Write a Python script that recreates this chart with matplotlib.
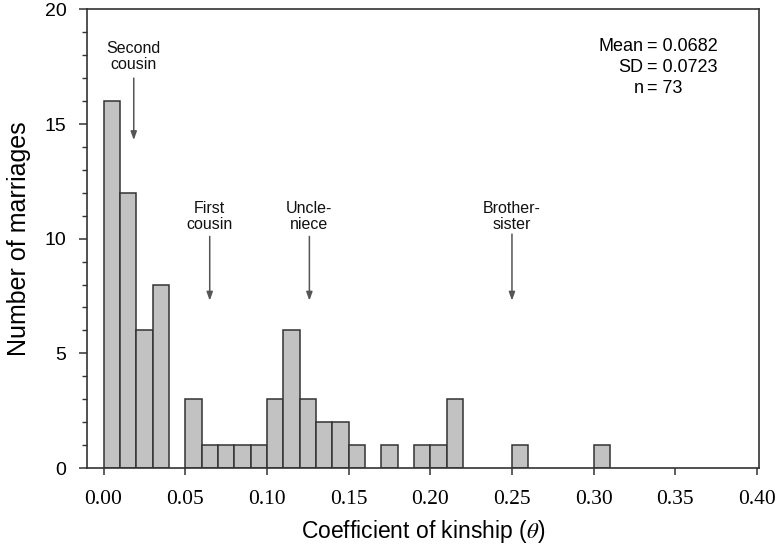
import matplotlib
matplotlib.use("Agg")
import matplotlib.pyplot as plt
from matplotlib.ticker import MultipleLocator, FixedLocator

plt.rcParams["mathtext.fontset"] = "stix"

# Data
bin_lefts = [0.00, 0.01, 0.02, 0.03, 0.04, 0.05, 0.06, 0.07, 0.08, 0.09,
             0.10, 0.11, 0.12, 0.13, 0.14, 0.15, 0.16, 0.17, 0.18, 0.19,
             0.20, 0.21, 0.22, 0.23, 0.24, 0.25, 0.26, 0.27, 0.28, 0.29, 0.30]
counts = [16, 12, 6, 8, 0, 3, 1, 1, 1, 1,
          3, 6, 3, 2, 2, 1, 0, 1, 0, 1,
          1, 3, 0, 0, 0, 1, 0, 0, 0, 0, 1]
bin_width = 0.01

arrow_labels = ["Second\ncousin", "First\ncousin", "Uncle-\nniece", "Brother-\nsister"]
arrow_x = [0.0185, 0.065, 0.126, 0.25]
arrow_tail = [17.0, 10.1, 10.1, 10.2]
arrow_head = [14.3, 7.3, 7.3, 7.3]
label_y = [17.25, 10.3, 10.3, 10.3]

xticks = [0.00, 0.05, 0.10, 0.15, 0.20, 0.25, 0.30, 0.35, 0.40]
xtick_labels = ["0.00", "0.05", "0.10", "0.15", "0.20", "0.25", "0.30", "0.35", "0.40"]
yticks = [0, 5, 10, 15, 20]

stats_names = ["Mean", "SD", "n"]
stats_values = ["0.0682", "0.0723", "73"]

sans = ["Liberation Sans", "DejaVu Sans"]
serif = ["Liberation Serif", "DejaVu Serif"]
dark = "#333333"

fig = plt.figure(figsize=(7.79, 5.49), dpi=100)
ax = fig.add_axes([0.1113, 0.1475, 0.9743 - 0.1113, 0.983 - 0.1475])

bx = [b for b, c in zip(bin_lefts, counts) if c > 0]
bh = [c for c in counts if c > 0]
ax.bar(bx, bh, width=bin_width, align="edge", color="#c2c2c2",
       edgecolor=dark, linewidth=1.1, zorder=2)

ax.set_xlim(-0.0103, 0.4012)
ax.set_ylim(0, 20)

for s in ax.spines.values():
    s.set_color(dark)
    s.set_linewidth(1.2)

ax.xaxis.set_major_locator(FixedLocator(xticks))
ax.set_xticklabels(xtick_labels, fontfamily=serif, fontsize=15.5)
ax.yaxis.set_major_locator(FixedLocator(yticks))
ax.yaxis.set_minor_locator(MultipleLocator(1))
ax.set_yticklabels([str(v) for v in yticks], fontfamily=sans, fontsize=14)
ax.tick_params(axis="x", direction="out", length=5, width=1.1, color=dark, pad=11)
ax.tick_params(axis="y", which="major", direction="out", length=6, width=1.1, color=dark, pad=8.5)
ax.tick_params(axis="y", which="minor", direction="out", length=3.5, width=1.0, color=dark)
ax.tick_params(top=False, right=False)

ax.set_xlabel(r"Coefficient of kinship ($\theta$)", fontfamily=sans, fontsize=16.5, labelpad=6)
ax.set_ylabel("Number of marriages", fontfamily=sans, fontsize=18, labelpad=10)

for lab, x, t, h, ly in zip(arrow_labels, arrow_x, arrow_tail, arrow_head, label_y):
    ax.text(x, ly, lab, ha="center", va="bottom", fontfamily=sans, fontsize=11.5,
            linespacing=1.1, color="#111111")
    ax.annotate("", xy=(x, h), xytext=(x, t),
                arrowprops=dict(arrowstyle="-|>,head_length=0.5,head_width=0.18",
                                color="#555555", lw=1.1, shrinkA=0, shrinkB=0))

eq_x = 0.3325
for i, (nm, val) in enumerate(zip(stats_names, stats_values)):
    yy = 18.36 - i * 0.915
    ax.text(eq_x - 0.002, yy, nm, ha="right", va="center", fontfamily=sans, fontsize=13)
    ax.text(eq_x, yy, "= " + val, ha="left", va="center", fontfamily=sans, fontsize=13)

fig.savefig("out.png", dpi=100)
